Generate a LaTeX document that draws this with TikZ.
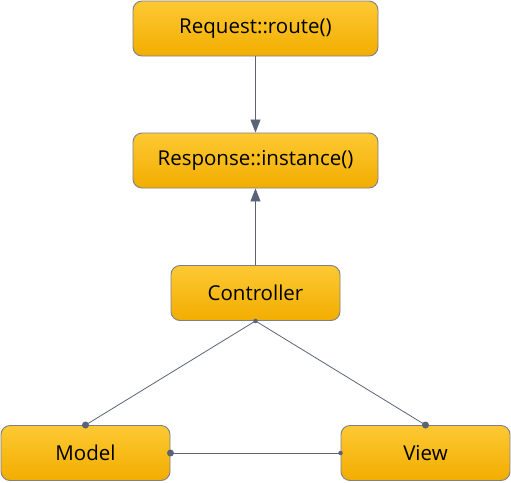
\documentclass[tikz,border=0pt]{standalone}
\usepackage{fontspec}
\setmainfont{Open Sans}
\usetikzlibrary{arrows.meta}
\definecolor{boxtop}{HTML}{FDC933}
\definecolor{boxbot}{HTML}{F2AD00}
\definecolor{boxline}{HTML}{7D808A}
\definecolor{wire}{HTML}{5B6377}
\tikzset{
  block/.style={draw=boxline, line width=0.9pt, rounded corners=9pt,
    top color=boxtop, bottom color=boxbot, minimum height=55pt,
    font=\fontsize{20.5}{24}\selectfont, inner sep=0pt},
  wide/.style={block, minimum width=245pt},
  narrow/.style={block, minimum width=169pt},
  link/.style={wire, line width=0.8pt},
  pin/.style={fill=wire, circle, inner sep=0pt, minimum size=#1},
}
\begin{document}
\begin{tikzpicture}[x=1pt, y=-1pt]
  \useasboundingbox (0,0) rectangle (511,482);
  % Blocks
  \node[wide] (req) at (255.5,28.5) {Request::route()};
  \node[wide] (resp) at (255.5,160.5) {Response::instance()};
  \node[narrow] (ctrl) at (255.5,293) {Controller};
  \node[narrow] (model) at (85.5,453) {Model};
  \node[narrow] (view) at (425.5,453) {View};
  % Arrows
  \draw[link, -{Triangle[length=13pt, width=10pt]}] (req.south) -- (resp.north);
  \draw[link, -{Triangle[length=13pt, width=10pt]}] (ctrl.north) -- (resp.south);
  % Connections
  \draw[link] (ctrl.south) -- (model.north);
  \draw[link] (ctrl.south) -- (view.north);
  \draw[link] (model.east) -- (view.west);
  \node[pin=4.5pt] at (ctrl.south) {};
  \node[pin=7pt] at (model.north) {};
  \node[pin=7pt] at (view.north) {};
  \node[pin=7pt] at (model.east) {};
  \node[pin=4.5pt] at (view.west) {};
\end{tikzpicture}
\end{document}
